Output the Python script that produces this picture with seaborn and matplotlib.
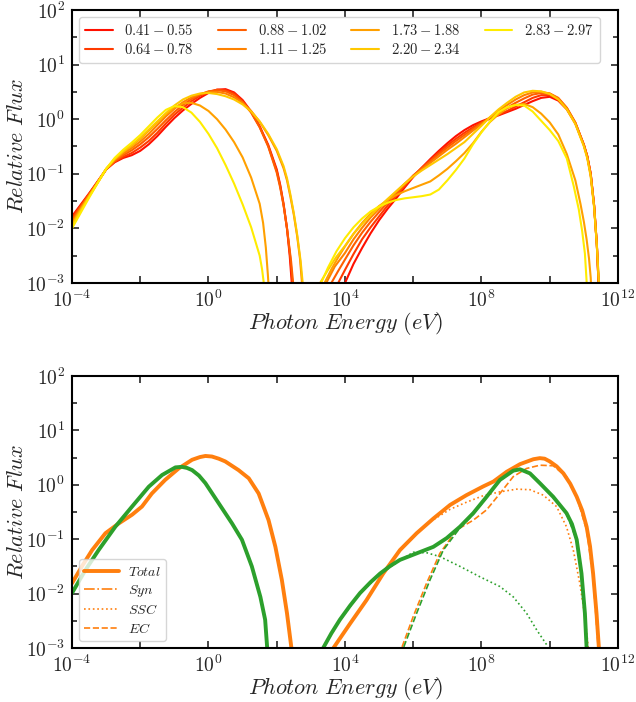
import numpy as np
import matplotlib
matplotlib.use("Agg")
import matplotlib.pyplot as plt
import seaborn as sns
from matplotlib.ticker import FixedLocator, FuncFormatter, NullFormatter

# ---------------- data: log10(E/eV), log10(relative flux) ----------------
labels_top = ["0.41 - 0.55", "0.64 - 0.78", "0.88 - 1.02", "1.11 - 1.25",
              "1.73 - 1.88", "2.20 - 2.34", "2.83 - 2.97"]

# common energy grid of the synchrotron hump (left)
H = [-4.0, -3.75, -3.5, -3.25, -3.0, -2.75, -2.5, -2.25, -2.0, -1.75, -1.5, -1.25, -1.0,
     -0.75, -0.5, -0.25, 0.0, 0.25, 0.5, 0.75, 1.0, 1.25, 1.5, 1.75, 2.0]

s041_le = H + [2.1, 2.2, 2.3, 2.38, 2.44, 2.48]
s041_lf = [-1.78, -1.57, -1.36, -1.14, -0.92, -0.79, -0.71, -0.66, -0.58, -0.46, -0.31, -0.14,
           0.02, 0.16, 0.28, 0.39, 0.48, 0.54, 0.55, 0.49, 0.35, 0.14, -0.13, -0.47, -0.92,
           -1.2, -1.55, -2.0, -2.5, -3.0, -3.4]
s064_le = H + [2.1, 2.2, 2.3, 2.4, 2.46, 2.5]
s064_lf = [-1.81, -1.59, -1.37, -1.15, -0.92, -0.78, -0.69, -0.62, -0.52, -0.40, -0.25, -0.08,
           0.08, 0.21, 0.33, 0.43, 0.50, 0.54, 0.53, 0.47, 0.33, 0.13, -0.14, -0.49, -0.95,
           -1.22, -1.57, -2.0, -2.55, -3.0, -3.4]
s088_le = H + [2.1, 2.2, 2.3, 2.42, 2.48, 2.52]
s088_lf = [-1.85, -1.61, -1.38, -1.15, -0.92, -0.77, -0.66, -0.57, -0.46, -0.33, -0.18, -0.02,
           0.13, 0.26, 0.37, 0.45, 0.51, 0.53, 0.51, 0.44, 0.31, 0.12, -0.15, -0.50, -0.98,
           -1.25, -1.58, -2.0, -2.6, -3.0, -3.4]
s111_le = H + [2.2, 2.3, 2.4, 2.5, 2.6, 2.68, 2.74, 2.78]
s111_lf = [-1.89, -1.64, -1.40, -1.16, -0.92, -0.75, -0.63, -0.53, -0.41, -0.27, -0.11, 0.05,
           0.19, 0.31, 0.40, 0.46, 0.50, 0.50, 0.47, 0.40, 0.30, 0.15, -0.05, -0.29, -0.58,
           -0.90, -1.12, -1.42, -1.75, -2.15, -2.55, -3.0, -3.4]
s173_le = H[:23] + [1.6, 1.68, 1.74, 1.76, 1.8]
s173_lf = [-1.92, -1.66, -1.41, -1.16, -0.91, -0.73, -0.60, -0.49, -0.36, -0.21, -0.06, 0.09,
           0.21, 0.29, 0.30, 0.25, 0.15, 0.0, -0.19, -0.42, -0.70, -1.07, -1.55,
           -1.9, -2.35, -2.85, -3.05, -3.4]
s220_le = H + [2.2, 2.3, 2.4, 2.5, 2.6, 2.7, 2.76, 2.8]
s220_lf = [-1.95, -1.68, -1.42, -1.17, -0.91, -0.73, -0.59, -0.47, -0.34, -0.19, -0.04, 0.11,
           0.25, 0.36, 0.43, 0.47, 0.48, 0.46, 0.42, 0.36, 0.27, 0.14, -0.04, -0.27, -0.55,
           -0.86, -1.08, -1.38, -1.72, -2.12, -2.6, -3.0, -3.4]
s283_le = H[:23] + [1.57, 1.62, 1.66]
s283_lf = [-2.0, -1.72, -1.44, -1.17, -0.91, -0.71, -0.56, -0.43, -0.29, -0.13, 0.03, 0.17,
           0.24, 0.22, 0.12, -0.05, -0.27, -0.53, -0.84, -1.18, -1.56, -1.98, -2.5,
           -2.75, -3.0, -3.4]

# common energy grid of the inverse-Compton hump (right)
RG = [4.0, 4.25, 4.5, 4.75, 5.0, 5.25, 5.5, 5.75, 6.0, 6.25, 6.5, 6.75, 7.0, 7.25, 7.5,
      7.75, 8.0, 8.25, 8.5, 8.75, 9.0, 9.25, 9.5, 9.75, 10.0, 10.25, 10.5, 10.75, 11.0]

c041_le = [3.9] + RG + [11.1, 11.2, 11.3, 11.38, 11.43, 11.46]
c041_lf = [-3.3, -3.0, -2.65, -2.36, -2.09, -1.85, -1.64, -1.45, -1.25, -1.06, -0.89, -0.73,
           -0.58, -0.44, -0.31, -0.20, -0.11, -0.04, 0.02, 0.07, 0.13, 0.19, 0.26, 0.33, 0.39,
           0.41, 0.34, 0.18, -0.08, -0.47, -0.68, -1.0, -1.58, -2.3, -3.0, -3.4]
c064_le = [3.68, 3.8] + RG + [11.1, 11.2, 11.3, 11.38, 11.43, 11.46]
c064_lf = [-3.3, -3.0, -2.76, -2.47, -2.2, -1.98, -1.78, -1.58, -1.40, -1.22, -1.04, -0.89,
           -0.75, -0.61, -0.48, -0.36, -0.25, -0.15, -0.06, 0.01, 0.08, 0.15, 0.23, 0.31, 0.39,
           0.44, 0.44, 0.37, 0.20, -0.07, -0.47, -0.68, -1.0, -1.58, -2.3, -3.0, -3.4]
c088_le = [3.48, 3.6, 3.8] + RG + [11.1, 11.2, 11.3, 11.38, 11.43, 11.46]
c088_lf = [-3.3, -3.0, -2.78, -2.57, -2.31, -2.08, -1.88, -1.70, -1.53, -1.37, -1.20, -1.03,
           -0.90, -0.77, -0.64, -0.52, -0.40, -0.29, -0.18, -0.07, 0.03, 0.12, 0.21, 0.30, 0.38,
           0.45, 0.48, 0.47, 0.39, 0.21, -0.06, -0.47, -0.68, -1.0, -1.58, -2.3, -3.0, -3.4]
c111_le = [3.33, 3.45, 3.7] + RG + [11.1, 11.2, 11.3, 11.38, 11.44, 11.47]
c111_lf = [-3.3, -3.0, -2.7, -2.45, -2.2, -1.99, -1.80, -1.64, -1.48, -1.33, -1.18, -1.04,
           -0.92, -0.80, -0.68, -0.56, -0.45, -0.33, -0.21, -0.09, 0.03, 0.15, 0.26, 0.36, 0.44,
           0.49, 0.50, 0.47, 0.38, 0.20, -0.07, -0.48, -0.7, -1.03, -1.6, -2.3, -3.0, -3.4]
c173_le = [3.28, 3.4, 3.6, 3.8] + RG[:28] + [10.9, 11.0, 11.08, 11.15, 11.2, 11.24]
c173_lf = [-3.3, -3.0, -2.75, -2.53, -2.33, -2.1, -1.9, -1.73, -1.59, -1.48, -1.39, -1.32,
           -1.26, -1.20, -1.14, -1.03, -0.91, -0.77, -0.62, -0.44, -0.23, -0.05, 0.09, 0.20,
           0.26, 0.28, 0.22, 0.10, -0.06, -0.28, -0.64, -1.12,
           -1.55, -1.88, -2.2, -2.55, -2.9, -3.4]
c220_le = [3.15, 3.27, 3.5, 3.75] + RG + [11.1, 11.2, 11.3, 11.38, 11.44, 11.47]
c220_lf = [-3.3, -3.0, -2.76, -2.52, -2.32, -2.1, -1.92, -1.76, -1.61, -1.46, -1.32, -1.18,
           -1.05, -0.94, -0.84, -0.74, -0.64, -0.53, -0.42, -0.27, -0.12, 0.04, 0.18, 0.30,
           0.41, 0.49, 0.52, 0.51, 0.46, 0.36, 0.18, -0.09, -0.50,
           -0.72, -1.05, -1.62, -2.32, -3.0, -3.4]
c283_le = [3.2, 3.3, 3.5, 3.75] + RG[:27] + [10.7, 10.85, 10.95, 11.03, 11.08, 11.11]
c283_lf = [-3.3, -3.0, -2.72, -2.42, -2.18, -1.98, -1.82, -1.69, -1.60, -1.53, -1.48, -1.45,
           -1.43, -1.41, -1.38, -1.29, -1.12, -0.93, -0.72, -0.46, -0.24, -0.04, 0.13, 0.22,
           0.26, 0.25, 0.14, -0.03, -0.20, -0.40, -0.72,
           -1.22, -1.65, -2.05, -2.46, -2.97, -3.4]

# bottom panel: two model SEDs (orange / green) with their components
o_tot_l_le = [-4.0, -3.71, -3.41, -3.02, -2.63, -2.24, -1.95, -1.66, -1.27, -0.875, -0.48,
              -0.25, -0.09, 0.10, 0.3, 0.49, 0.88, 1.18, 1.47, 1.76, 1.96, 2.15, 2.30, 2.43, 2.48]
o_tot_l_lf = [-1.81, -1.50, -1.20, -0.89, -0.71, -0.55, -0.40, -0.16, 0.09, 0.30, 0.46,
              0.51, 0.53, 0.52, 0.48, 0.43, 0.27, 0.12, -0.16, -0.65, -1.14, -1.75, -2.36,
              -3.0, -3.4]
g_tot_l_le = [-4.0, -3.61, -3.22, -2.73, -2.24, -1.75, -1.36, -0.97, -0.78, -0.63, -0.48,
              -0.28, -0.09, 0.30, 0.69, 0.98, 1.27, 1.52, 1.66, 1.72, 1.76]
g_tot_l_lf = [-1.99, -1.57, -1.20, -0.77, -0.40, -0.035, 0.18, 0.32, 0.33, 0.31, 0.27,
              0.17, 0.03, -0.34, -0.71, -1.01, -1.50, -2.06, -2.48, -3.0, -3.4]

o_tot_r_le = [3.55, 3.66, 4.15, 4.63, 5.12, 5.61, 6.1, 6.59, 7.08, 7.56, 8.05, 8.35, 8.74,
              9.13, 9.52, 9.71, 9.85, 10.0, 10.2, 10.4, 10.6, 10.79, 10.95, 11.08, 11.18,
              11.27, 11.37, 11.44, 11.47]
o_tot_r_lf = [-3.3, -3.0, -2.55, -2.12, -1.63, -1.20, -0.89, -0.62, -0.37, -0.19, -0.03, 0.06,
              0.24, 0.38, 0.47, 0.49, 0.48, 0.43, 0.34, 0.21, 0.02, -0.22, -0.47, -0.77,
              -1.13, -1.63, -2.36, -3.0, -3.4]
g_tot_r_le = [3.25, 3.36, 3.6, 3.85, 4.15, 4.44, 4.75, 5.03, 5.33, 5.61, 6.1, 6.59, 6.98,
              7.37, 7.76, 8.15, 8.54, 8.93, 9.13, 9.42, 9.71, 10.1, 10.49, 10.65, 10.79, 10.93,
              11.03, 11.08, 11.1]
g_tot_r_lf = [-3.3, -3.0, -2.73, -2.48, -2.22, -1.99, -1.79, -1.63, -1.49, -1.38, -1.26,
              -1.14, -0.98, -0.77, -0.52, -0.22, 0.09, 0.26, 0.285, 0.21, 0.03, -0.22, -0.52,
              -0.72, -1.01, -1.63, -2.36, -3.0, -3.4]

o_ssc_le = [3.55, 3.66, 4.15, 4.63, 5.12, 5.61, 6.1, 6.39, 7.08, 7.56, 8.05, 8.54, 9.03,
            9.42, 9.81, 10.2, 10.49, 10.69, 10.88, 11.03, 11.13, 11.16]
o_ssc_lf = [-3.3, -3.0, -2.55, -2.12, -1.63, -1.21, -0.90, -0.72, -0.45, -0.32, -0.20, -0.13,
            -0.08, -0.09, -0.19, -0.40, -0.77, -1.20, -1.81, -2.42, -3.0, -3.4]
o_ec_le = [5.6, 5.66, 6.0, 6.39, 6.78, 7.27, 7.76, 8.15, 8.54, 8.93, 9.32, 9.71, 10.1,
           10.49, 10.79, 11.08, 11.27, 11.42, 11.45]
o_ec_lf = [-3.3, -3.0, -2.42, -1.81, -1.26, -0.83, -0.65, -0.46, -0.16, 0.15, 0.30, 0.36,
           0.35, 0.15, -0.22, -0.83, -1.69, -3.0, -3.4]
g_ssc_le = [3.25, 3.36, 3.85, 4.44, 5.03, 5.61, 6.0, 6.4, 6.78, 7.37, 7.95, 8.54, 8.93,
            9.32, 9.62, 9.91, 10.0]
g_ssc_lf = [-3.3, -3.0, -2.49, -2.0, -1.64, -1.39, -1.24, -1.25, -1.32, -1.50, -1.69, -1.87,
            -2.06, -2.36, -2.67, -2.94, -3.1]
g_ec_le = [5.65, 5.71, 6.1, 6.49, 6.88, 7.37, 7.76, 8.15, 8.54, 8.93, 9.13, 9.42, 9.71,
           10.1, 10.49, 10.79, 10.93, 11.03, 11.08, 11.1]
g_ec_lf = [-3.3, -3.0, -2.36, -1.75, -1.20, -0.79, -0.54, -0.23, 0.08, 0.25, 0.28, 0.20, 0.02,
           -0.23, -0.53, -1.02, -1.64, -2.37, -3.0, -3.4]

labels_bottom = ["Total", "Syn", "SSC", "EC"]

# ---------------- style ----------------
sns.set_style("ticks")
plt.rcParams.update({
    "font.family": ["DejaVu Serif"],
    "mathtext.fontset": "cm",
    "xtick.direction": "in", "ytick.direction": "in",
    "xtick.top": True, "ytick.right": True,
    "axes.linewidth": 1.5,
    "axes.edgecolor": "black",
})

colors_top = ["#ff1000", "#ff3a00", "#ff5e00", "#ff8200", "#ffa000", "#ffc800", "#ffec00"]
ORANGE = "#ff7f0e"
GREEN = "#2ca02c"

fig = plt.figure(figsize=(6.36, 7.02), dpi=100)
ax1 = fig.add_axes([0.1132, 0.5969, 0.8585, 0.3889])
ax2 = fig.add_axes([0.1132, 0.0769, 0.8585, 0.3875])


def draw(ax, le, lf, **kw):
    sns.lineplot(x=10.0 ** np.asarray(le), y=10.0 ** np.asarray(lf), ax=ax,
                 sort=False, estimator=None, **kw)


sync = [(s041_le, s041_lf), (s064_le, s064_lf), (s088_le, s088_lf), (s111_le, s111_lf),
        (s173_le, s173_lf), (s220_le, s220_lf), (s283_le, s283_lf)]
comp = [(c041_le, c041_lf), (c064_le, c064_lf), (c088_le, c088_lf), (c111_le, c111_lf),
        (c173_le, c173_lf), (c220_le, c220_lf), (c283_le, c283_lf)]

for i, lab in enumerate(labels_top):
    a, b = lab.split(" - ")
    draw(ax1, sync[i][0], sync[i][1], color=colors_top[i], lw=1.5, label=r"$%s-%s$" % (a, b))
    draw(ax1, comp[i][0], comp[i][1], color=colors_top[i], lw=1.5)

# bottom panel: orange first, then green
draw(ax2, o_tot_l_le, o_tot_l_lf, color=ORANGE, lw=2.8, label=r"$%s$" % labels_bottom[0])
draw(ax2, o_tot_r_le, o_tot_r_lf, color=ORANGE, lw=2.8)
draw(ax2, o_tot_l_le, o_tot_l_lf, color=ORANGE, lw=1.2, ls="-.", label=r"$%s$" % labels_bottom[1])
draw(ax2, o_ssc_le, o_ssc_lf, color=ORANGE, lw=1.2, ls=":", label=r"$%s$" % labels_bottom[2])
draw(ax2, o_ec_le, o_ec_lf, color=ORANGE, lw=1.2, ls="--", label=r"$%s$" % labels_bottom[3])
draw(ax2, g_tot_l_le, g_tot_l_lf, color=GREEN, lw=2.8)
draw(ax2, g_tot_r_le, g_tot_r_lf, color=GREEN, lw=2.8)
draw(ax2, g_ssc_le, g_ssc_lf, color=GREEN, lw=1.2, ls=":")
draw(ax2, g_ec_le, g_ec_lf, color=GREEN, lw=1.2, ls="--")

fmt = FuncFormatter(lambda v, p: r"$10^{%d}$" % int(round(np.log10(v))))
for ax in (ax1, ax2):
    ax.set_xscale("log")
    ax.set_yscale("log")
    ax.set_xlim(1e-4, 1e12)
    ax.set_ylim(1e-3, 1e2)
    ax.xaxis.set_major_locator(FixedLocator([10.0 ** k for k in (-4, 0, 4, 8, 12)]))
    ax.xaxis.set_minor_locator(FixedLocator([10.0 ** k for k in (-2, 2, 6, 10)]))
    ax.yaxis.set_major_locator(FixedLocator([10.0 ** k for k in range(-3, 3)]))
    ax.yaxis.set_minor_locator(FixedLocator([10.0 ** (k + 0.5) for k in range(-3, 2)]))
    ax.xaxis.set_major_formatter(fmt)
    ax.yaxis.set_major_formatter(fmt)
    ax.xaxis.set_minor_formatter(NullFormatter())
    ax.yaxis.set_minor_formatter(NullFormatter())
    ax.tick_params(which="major", length=5, width=1.2, labelsize=14, pad=5)
    ax.tick_params(axis="x", which="minor", length=5, width=1.2)
    ax.tick_params(axis="y", which="minor", length=3.5, width=1.2)
    ax.set_xlabel(r"$Photon\ Energy\ (eV)$", fontsize=16)
    ax.set_ylabel(r"$Relative\ Flux$", fontsize=16)
    ax.yaxis.set_label_coords(-0.081, 0.5)
    ax.xaxis.set_label_coords(0.5, -0.1)

h, l = ax1.get_legend_handles_labels()
ax1.legend(h, l, loc="upper left", ncol=4, fontsize=10.5, handlelength=1.9,
           handletextpad=0.8, columnspacing=1.65, labelspacing=0.3, frameon=True)
h, l = ax2.get_legend_handles_labels()
ax2.legend(h, l, loc="lower left", fontsize=10, handlelength=2.5, handletextpad=0.6,
           frameon=True, labelspacing=0.3)

fig.savefig("out.png", dpi=100)
